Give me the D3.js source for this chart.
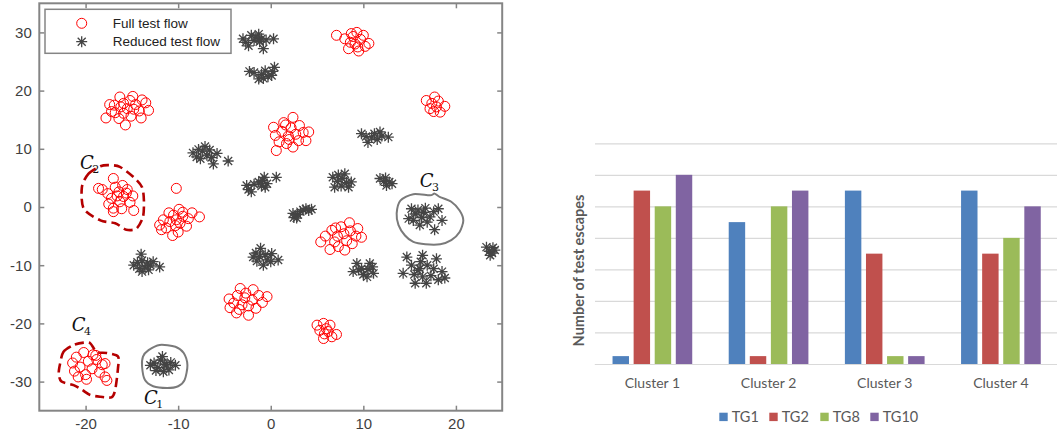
<!DOCTYPE html>
<html>
<head>
<meta charset="utf-8">
<script src="https://cdn.jsdelivr.net/npm/d3@7"></script>
<style>
  html, body { margin: 0; padding: 0; background: #fff; }
  svg { display: block; }
</style>
</head>
<body>
<svg id="chart" width="1057" height="434"></svg>
<script>
// ---------- Scatter: t-SNE style embedding of test flows ----------
const fullFlowPoints = [
  // upper-left group
  [-17.8,15.3],[-17.2,16.4],[-16.9,17.5],[-16.3,18.9],[-15.9,17.8],[-15.5,16.9],[-14.9,19.0],[-14.6,17.6],
  [-14.2,16.5],[-13.5,17.9],[-13.2,16.6],[-15.7,14.1],[-16.4,15.2],[-15.1,15.6],[-14.0,15.3],[-16.8,16.2],
  [-15.9,16.1],[-15.2,18.3],[-14.8,16.8],[-16.2,17.2],[-17.4,17.6],[-13.9,18.4],
  // C2
  [-18.6,3.2],[-18.2,3.0],[-17.6,2.3],[-17.0,4.9],[-17.2,1.5],[-16.8,3.4],[-16.4,2.6],[-16.0,3.7],
  [-15.9,1.8],[-15.5,3.0],[-14.9,1.9],[-15.2,0.8],[-16.3,0.9],[-17.0,-0.2],[-17.0,-0.8],[-14.8,-0.6],
  [-16.6,1.9],[-15.6,2.4],[-16.1,-0.3],[-17.5,0.5],
  // group right of C2
  [-12.0,-3.1],[-11.6,-2.2],[-11.3,-3.6],[-10.9,-2.5],[-10.6,-4.9],[-10.5,-1.4],[-10.0,-4.3],[-9.9,-0.4],
  [-9.8,-2.8],[-9.5,-1.6],[-9.1,-3.3],[-8.9,-2.0],[-8.5,-1.0],[-7.7,-1.7],[-11.0,-1.0],[-10.3,-3.2],
  [-9.5,-0.9],[-10.2,-2.2],[-11.8,-3.9],[-10.2,3.2],
  // lower-centre group
  [-4.5,-15.8],[-4.4,-17.3],[-4.0,-16.5],[-3.7,-18.2],[-3.6,-15.2],[-3.3,-14.0],[-3.1,-16.8],[-2.8,-15.6],
  [-2.4,-18.6],[-2.4,-17.0],[-2.0,-16.0],[-1.9,-14.2],[-1.6,-17.4],[-1.3,-15.2],[-0.9,-16.4],[-0.4,-15.4],
  [-2.7,-14.8],[-3.4,-17.6],
  // C4
  [-21.4,-26.8],[-21.2,-28.2],[-21.0,-25.8],[-20.6,-27.5],[-20.2,-25.0],[-20.0,-28.8],[-19.9,-29.6],[-19.7,-26.5],
  [-19.2,-25.4],[-19.3,-27.8],[-18.8,-26.2],[-18.5,-28.4],[-18.2,-27.1],[-17.9,-26.9],[-17.9,-29.2],[-17.7,-29.8],
  [-20.8,-29.2],[-18.9,-25.5],
  // small lower-right group
  [5.0,-20.3],[5.3,-21.2],[5.7,-20.0],[5.8,-21.8],[5.7,-22.6],[6.2,-21.4],[6.4,-20.3],[6.6,-22.3],[7.1,-21.9],[6.0,-20.9],
  // centre-top group
  [0.3,13.7],[0.5,12.3],[0.6,9.7],[0.9,11.2],[1.2,13.0],[1.4,14.5],[1.7,10.9],[1.9,12.2],[2.2,13.6],[2.4,15.4],
  [2.4,10.3],[2.7,12.5],[3.0,11.4],[3.1,14.0],[3.5,12.8],[3.8,11.4],[4.1,12.9],[1.6,14.1],[2.0,11.6],
  // centre-right group
  [5.4,-6.0],[5.9,-5.0],[6.4,-7.3],[6.6,-4.0],[6.9,-6.0],[7.2,-5.0],[7.3,-6.8],[7.6,-3.4],[7.9,-4.6],[8.0,-7.4],
  [8.2,-5.8],[8.5,-2.7],[8.6,-4.1],[8.8,-6.3],[9.2,-5.0],[9.4,-3.7],[9.8,-5.2],[7.0,-3.6],
  // top group
  [7.1,29.5],[8.0,28.9],[8.4,27.2],[8.6,28.3],[8.9,29.3],[9.3,30.0],[9.1,28.0],[9.5,26.8],[9.7,28.8],[10.0,29.5],
  [10.2,27.6],[10.6,28.1],[9.4,27.5],[8.7,29.8],
  // right group
  [16.8,18.3],[17.2,16.9],[17.4,17.8],[17.7,18.9],[17.9,17.2],[18.1,18.2],[18.3,16.3],[18.8,17.3],[17.6,16.4]
];

const reducedFlowPoints = [
  [-3.0,28.9],[-2.7,28.3],[-2.4,27.7],[-2.1,29.5],[-1.8,28.6],[-1.3,29.7],[-1.2,28.4],[-1.0,28.9],[-0.8,27.2],[-0.5,28.7],[0.3,28.9],[-1.6,29.2],
  [-2.3,23.3],[-1.8,23.1],[-1.3,22.0],[-1.0,22.8],[-0.6,23.4],[-0.3,22.4],[0.1,22.6],[0.4,24.0],[0.2,23.3],[-0.8,22.1],
  [-8.4,9.3],[-8.0,8.6],[-7.6,8.3],[-7.4,9.6],[-7.1,10.4],[-6.9,8.9],[-6.6,9.8],[-6.2,7.4],[-6.4,8.5],[-5.8,9.2],[-4.6,7.9],[-7.8,9.9],
  [-2.6,3.7],[-2.4,3.0],[-2.1,2.6],[-1.8,3.9],[-1.3,4.3],[-0.9,4.6],[-0.7,5.1],[-0.4,4.0],[-0.6,3.4],[0.6,5.1],[-1.0,3.6],
  [-1.9,-8.6],[-1.6,-7.9],[-1.1,-7.1],[-1.2,-8.5],[-0.8,-10.0],[-0.6,-8.2],[-0.4,-9.1],[0.1,-8.0],[0.0,-9.4],[0.8,-9.1],[-1.5,-9.3],
  [-14.8,-10.0],[-14.4,-9.5],[-14.0,-8.1],[-13.9,-9.2],[-13.9,-11.1],[-13.6,-10.3],[-13.3,-9.6],[-13.0,-10.0],[-13.2,-10.8],[-12.7,-9.4],[-12.0,-10.3],[-14.2,-10.6],
  // C1
  [-13.0,-27.2],[-12.6,-26.8],[-12.2,-27.6],[-11.9,-26.3],[-11.7,-25.7],[-11.6,-28.3],[-11.3,-27.1],[-11.0,-28.0],[-10.8,-26.7],[-10.3,-27.2],[-12.4,-28.1],[-11.5,-27.0],
  [2.4,-1.1],[2.5,-1.8],[2.9,-1.3],[3.2,-0.8],[3.5,-0.5],[3.8,-0.3],[4.1,-0.6],[4.4,-0.4],[2.8,-1.9],
  [6.7,5.1],[6.9,3.4],[7.2,4.4],[7.6,3.6],[7.7,4.9],[8.0,5.7],[8.2,4.2],[8.7,4.3],[8.4,3.4],[7.3,5.5],
  [11.8,4.9],[12.2,4.4],[12.5,3.7],[12.8,4.3],[13.1,4.0],[12.4,5.0],
  [9.8,12.6],[10.3,12.1],[10.5,11.1],[10.9,12.0],[11.2,12.6],[11.5,11.6],[11.8,12.9],[12.0,12.2],[12.7,12.0],
  // C3
  [14.9,-2.0],[15.2,-0.3],[15.4,-2.3],[15.6,-1.2],[15.9,-0.5],[16.1,-3.1],[16.3,-1.8],[16.5,-0.9],[16.9,-2.6],[17.2,-1.7],
  [17.6,-0.8],[17.7,-3.9],[18.1,-0.3],[18.5,-2.3],[16.7,-0.2],
  [8.9,-11.1],[9.3,-9.7],[9.5,-10.8],[9.8,-10.6],[10.0,-11.6],[10.4,-12.0],[10.7,-9.7],[10.5,-10.7],[11.1,-11.4],[11.0,-10.3],
  [14.3,-11.4],[14.7,-8.6],[15.2,-10.0],[15.6,-13.1],[15.5,-11.6],[15.9,-10.9],[16.1,-10.6],[16.4,-8.3],[16.4,-12.0],[16.8,-13.1],
  [16.9,-10.0],[17.3,-11.8],[17.6,-10.6],[17.9,-8.9],[18.1,-12.5],[18.5,-11.1],[18.8,-12.2],[16.2,-9.4],
  [23.3,-6.9],[23.6,-7.6],[24.0,-7.0],[24.2,-7.4],[23.7,-8.3],[23.9,-7.9]
];

// Hand-drawn cluster outlines (data coordinates)
const c1Outline = [[-13.2,-24.6],[-12.0,-23.7],[-10.3,-24.0],[-9.4,-25.1],[-9.0,-27.2],[-9.3,-29.7],[-10.0,-30.8],[-11.2,-31.1],[-12.7,-30.8],[-13.6,-29.7],[-13.9,-27.4],[-13.8,-25.7]];
const c2Outline = [[-20.4,3.4],[-19.7,5.7],[-18.4,7.0],[-17.5,7.2],[-16.3,6.9],[-14.8,5.1],[-13.9,3.4],[-13.7,1.1],[-13.8,-1.7],[-14.5,-3.7],[-15.6,-3.9],[-16.8,-2.8],[-18.4,-2.3],[-20.2,-0.3]];
const c3Outline = [[13.6,-1.1],[14.0,1.1],[15.4,2.2],[17.2,2.0],[17.7,2.3],[18.3,1.7],[19.5,0.9],[20.4,-0.6],[20.8,-2.3],[20.4,-4.3],[19.5,-5.7],[18.3,-6.4],[16.7,-6.4],[15.4,-6.0],[14.5,-4.9],[13.8,-3.1]];
const c4Outline = [[-22.75,-26.9],[-22.4,-24.9],[-21.3,-23.7],[-20.2,-23.3],[-19.5,-23.4],[-18.8,-24.9],[-17.7,-25.1],[-16.5,-25.7],[-16.5,-27.7],[-16.8,-31.4],[-17.2,-32.7],[-18.4,-32.6],[-19.5,-32.3],[-20.4,-31.4],[-21.3,-30.6],[-22.6,-30.0],[-22.9,-28.6]];

const clusterLabels = [
  {name: "C", sub: "1", x: -13.7, y: -33.8},
  {name: "C", sub: "2", x: -20.6, y: 6.6},
  {name: "C", sub: "3", x: 16.1, y: 3.4},
  {name: "C", sub: "4", x: -21.5, y: -21.3}
];

const scatterTicksX = [-20, -10, 0, 10, 20];
const scatterTicksY = [-30, -20, -10, 0, 10, 20, 30];
const legendLabels = ["Full test flow", "Reduced test flow"];

// ---------- Bar chart: test escapes per cluster ----------
const clusters = ["Cluster 1", "Cluster 2", "Cluster 3", "Cluster 4"];
const testGroups = ["TG1", "TG2", "TG8", "TG10"];
const tg1 = [1, 18, 22, 22];
const tg2 = [22, 1, 14, 14];
const tg8 = [20, 20, 1, 16];
const tg10 = [24, 22, 1, 20];
const barTicks = [0, 4, 8, 12, 16, 20, 24, 28];
const groupColors = ["#4f81bd", "#c0504d", "#9bbb59", "#8064a2"];

const svg = d3.select("#chart");

// ===== Scatter panel =====
const sx = d3.scaleLinear().domain([-25, 25]).range([39.3, 502.2]);
const sy = d3.scaleLinear().domain([-35, 35]).range([410.7, 3.3]);
const axisColor = "#858585";
const sc = svg.append("g");

function styleAxis(g, showLabels) {
  g.select(".domain").remove();
  g.selectAll(".tick line").attr("stroke", axisColor).attr("stroke-width", 1.5);
  g.selectAll(".tick text")
    .attr("fill", "#3f3f3f")
    .style("font-family", "'Liberation Sans', Arial, sans-serif")
    .style("font-size", "15px");
  if (!showLabels) g.selectAll(".tick text").remove();
}

sc.append("g").attr("transform", `translate(0,${sy(-35)})`)
  .call(d3.axisBottom(sx).tickValues(scatterTicksX).tickSize(-5).tickPadding(8).tickFormat(d3.format("d")))
  .call(g => styleAxis(g, true));
sc.append("g").attr("transform", `translate(0,${sy(35)})`)
  .call(d3.axisTop(sx).tickValues(scatterTicksX).tickSize(-5))
  .call(g => styleAxis(g, false));
sc.append("g").attr("transform", `translate(${sx(-25)},0)`)
  .call(d3.axisLeft(sy).tickValues(scatterTicksY).tickSize(-5).tickPadding(7.5).tickFormat(d3.format("d")))
  .call(g => styleAxis(g, true));
sc.append("g").attr("transform", `translate(${sx(25)},0)`)
  .call(d3.axisRight(sy).tickValues(scatterTicksY).tickSize(-5))
  .call(g => styleAxis(g, false));

// Minus sign as a plain hyphen, like the axis labels in the figure
sc.selectAll(".tick text").text(function() { return this.textContent.replace("\u2212", "-"); });

sc.append("rect")
  .attr("x", sx(-25)).attr("y", sy(35))
  .attr("width", sx(25) - sx(-25)).attr("height", sy(-35) - sy(35))
  .attr("fill", "none").attr("stroke", axisColor).attr("stroke-width", 2);

const starPath = "M-5.5,0H5.5M0,-5.5V5.5M-4,-4L4,4M-4,4L4,-4";

// Outlines
const outline = d3.line().x(d => sx(d[0])).y(d => sy(d[1])).curve(d3.curveCardinalClosed.tension(0.2));
[c2Outline, c4Outline].forEach(o => {
  sc.append("path").attr("d", outline(o)).attr("fill", "none")
    .attr("stroke", "#b40000").attr("stroke-width", 2.6).attr("stroke-dasharray", "9,5");
});
[c1Outline, c3Outline].forEach(o => {
  sc.append("path").attr("d", outline(o)).attr("fill", "none")
    .attr("stroke", "#7a7a7a").attr("stroke-width", 2);
});

// Reduced flow (asterisks)
sc.append("g").selectAll("path").data(reducedFlowPoints).join("path")
  .attr("transform", d => `translate(${sx(d[0])},${sy(d[1])})`)
  .attr("d", starPath)
  .attr("fill", "none").attr("stroke", "#444").attr("stroke-width", 1.3);

// Full flow (open circles)
sc.append("g").selectAll("circle").data(fullFlowPoints).join("circle")
  .attr("cx", d => sx(d[0])).attr("cy", d => sy(d[1])).attr("r", 5)
  .attr("fill", "none").attr("stroke", "#ff0000").attr("stroke-width", 1);

// Cluster labels
clusterLabels.forEach(l => {
  const t = sc.append("text")
    .attr("x", sx(l.x)).attr("y", sy(l.y))
    .style("font-family", "'DejaVu Serif', 'Liberation Serif', serif")
    .attr("fill", "#111");
  t.append("tspan").style("font-style", "italic").style("font-size", "18px").text(l.name);
  t.append("tspan").attr("dy", 4).attr("dx", -1.5).style("font-size", "11px").text(l.sub);
});

// Legend
const lg = sc.append("g");
lg.append("rect").attr("x", 45).attr("y", 9.3).attr("width", 186).attr("height", 44)
  .attr("fill", "#fff").attr("stroke", axisColor).attr("stroke-width", 1.5);
lg.append("circle").attr("cx", 81.7).attr("cy", 23.3).attr("r", 5)
  .attr("fill", "none").attr("stroke", "#ff0000").attr("stroke-width", 1);
lg.append("path").attr("transform", "translate(81.7,41.7)").attr("d", starPath)
  .attr("fill", "none").attr("stroke", "#444").attr("stroke-width", 1.3);
legendLabels.forEach((s, i) => {
  lg.append("text").attr("x", 112.7).attr("y", 28 + i * 18.4)
    .style("font-family", "'Liberation Sans', Arial, sans-serif").style("font-size", "13.5px")
    .attr("fill", "#222").text(s);
});

// ===== Bar panel =====
const bx0 = d3.scaleBand().domain(clusters).range([594.3, 1059]).paddingInner(0.314).paddingOuter(0.157);
const bx1 = d3.scaleBand().domain(testGroups).range([0, bx0.bandwidth()]).paddingInner(0.22);
const by = d3.scaleLinear().domain([0, 28]).range([364, 143.3]);
const series = [tg1, tg2, tg8, tg10];
const bc = svg.append("g");
const barFont = "Lato, 'Open Sans', sans-serif";

bc.append("g").attr("transform", "translate(595,0)")
  .call(d3.axisLeft(by).tickValues(barTicks).tickSize(-462).tickFormat(""))
  .call(g => {
    g.select(".domain").remove();
    g.selectAll(".tick line").attr("stroke", "#d9d9d9").attr("stroke-width", 1.2);
  });

const grp = bc.selectAll("g.cluster").data(clusters).join("g")
  .attr("class", "cluster")
  .attr("transform", d => `translate(${bx0(d)},0)`);
grp.selectAll("rect").data((c, ci) => testGroups.map((tg, gi) => ({tg, v: series[gi][ci], gi})))
  .join("rect")
  .attr("x", d => bx1(d.tg)).attr("width", bx1.bandwidth())
  .attr("y", d => by(d.v)).attr("height", d => by(0) - by(d.v))
  .attr("fill", d => groupColors[d.gi]);

bc.append("g").attr("transform", `translate(0,${by(0)})`)
  .call(d3.axisBottom(bx0).tickSize(0).tickPadding(14))
  .call(g => {
    g.select(".domain").attr("stroke", "#d9d9d9").attr("stroke-width", 1.2);
    g.selectAll(".tick text").attr("fill", "#595959")
      .style("font-family", barFont).style("font-size", "14px");
  });

bc.append("text")
  .attr("transform", "translate(584,270.5) rotate(-90)")
  .attr("text-anchor", "middle")
  .attr("fill", "#595959").style("font-family", barFont).style("font-size", "14.5px").style("font-weight", "bold")
  .text("Number of test escapes");

const legendX = [719.3, 769.3, 820.3, 870.3];
testGroups.forEach((tg, i) => {
  bc.append("rect").attr("x", legendX[i]).attr("y", 412.7).attr("width", 8.4).attr("height", 8.4).attr("fill", groupColors[i]);
  bc.append("text").attr("x", legendX[i] + 12.4).attr("y", 422)
    .attr("fill", "#595959").style("font-family", barFont).style("font-size", "14.5px").text(tg);
});
</script>
</body>
</html>
